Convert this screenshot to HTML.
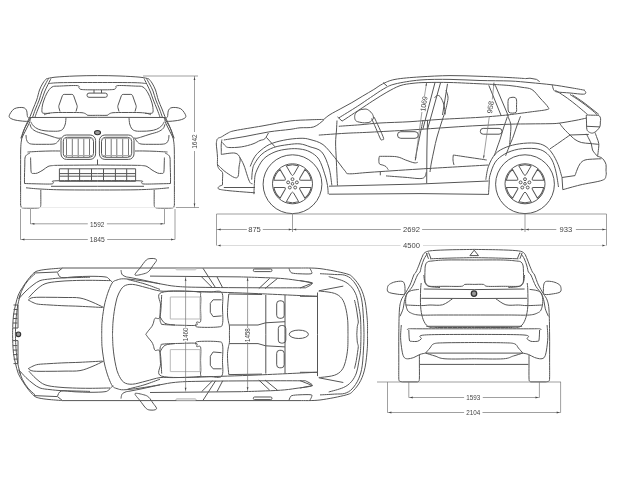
<!DOCTYPE html>
<html><head><meta charset="utf-8"><style>
html,body{margin:0;padding:0;background:#fff;width:640px;height:480px;overflow:hidden}
svg{display:block;will-change:transform}
text{font-family:"Liberation Sans",sans-serif;font-size:7.6px;fill:#444}
.l{fill:none;stroke:#555;stroke-width:1;stroke-linecap:butt;stroke-linejoin:round}
.d{fill:none;stroke:#777;stroke-width:0.7}
text.sm{font-size:6.6px}
text.rd{font-size:7px;letter-spacing:-0.35px}
text.vt{font-size:7.3px}
</style></head><body>
<svg width="640" height="480" viewBox="0 0 640 480">
<!-- ========== FRONT VIEW ========== -->
<defs><g id="fl">
<path d="M46.3,78.8 C45.8,79.5 44.1,81.1 43.0,83.0 C41.9,84.9 40.5,87.2 39.5,90.0 C38.5,92.8 37.8,96.8 36.7,100.0 C35.6,103.2 34.1,106.2 33.0,109.0 C31.9,111.8 31.2,114.0 30.0,116.7 C28.8,119.4 27.1,122.5 26.0,125.0 C24.9,127.5 24.2,129.5 23.3,131.7 C22.4,133.9 21.2,137.2 20.8,138.3"/>
<path d="M48.5,78.5 C48.0,79.4 46.6,81.9 45.5,84.0 C44.4,86.1 43.0,88.3 42.0,91.0 C41.0,93.7 40.3,97.0 39.2,100.0 C38.1,103.0 36.6,106.1 35.5,109.0 C34.4,111.9 33.0,116.1 32.5,117.5"/>
<path d="M51.0,78.5 C50.5,79.5 49.1,82.2 48.0,84.5 C46.9,86.8 45.5,89.4 44.5,92.0 C43.5,94.6 42.8,97.2 41.7,100.0 C40.6,102.8 39.1,106.2 38.0,109.0 C36.9,111.8 35.5,115.7 35.0,117.0"/>
<path d="M97.5,89.8 C95.8,89.8 90.2,89.9 87.5,89.8 C84.8,89.7 82.4,89.7 81.0,89.4 C79.6,89.1 79.6,88.6 79.0,88.0 C78.4,87.4 80.5,85.9 77.2,85.6 C73.9,85.3 63.6,85.9 59.4,86.1 C55.2,86.3 54.1,85.8 52.0,87.0 C49.9,88.2 48.3,90.8 47.0,93.0 C45.7,95.2 44.8,97.8 44.0,100.0 C43.2,102.2 42.6,104.0 42.3,106.0 C42.0,108.0 41.7,110.8 42.0,112.0 C42.3,113.2 42.7,113.1 44.0,113.3 C45.3,113.5 49.0,113.3 50.0,113.3"/>
<path d="M44.0,114.8 C44.7,114.6 46.2,113.8 48.0,113.4 C49.8,113.0 51.3,112.8 55.0,112.6 C58.7,112.4 65.5,112.5 70.0,112.5 C74.5,112.5 79.3,112.5 82.0,112.7 C84.7,113.0 85.0,113.6 86.0,114.0 C87.0,114.4 86.1,115.1 88.0,115.3 C89.9,115.5 95.9,115.3 97.5,115.3"/>
<path d="M60,111.5 L58.9,107.6 Q58.6,106.6 58.9,105.6 L62.4,95.6 Q62.9,94.4 64.2,94.4 L71.8,94.4 Q73.1,94.4 73.6,95.6 L77.1,105.6 Q77.4,106.6 77.1,107.6 L76,111.5"/>
<path d="M9.2,115.8 C9.3,114.9 10.0,113.7 10.8,112.5 C11.6,111.3 12.8,109.6 14.2,108.8 C15.6,108.0 17.5,107.7 19.2,107.5 C20.9,107.3 22.9,107.4 24.2,107.9 C25.4,108.5 26.1,109.3 26.7,110.8 C27.2,112.3 27.1,115.5 27.5,116.7 C27.9,118.0 28.8,117.6 29.2,118.3 C29.6,119.0 30.7,120.3 30.0,120.8 C29.3,121.3 27.5,121.4 25.0,121.3 C22.5,121.2 17.5,120.6 15.0,120.0 C12.5,119.4 11.0,118.6 10.0,117.9 C9.0,117.2 9.1,116.7 9.2,115.8Z"/>
<path d="M30.0,117.5 L97.5,117.3"/>
<path d="M30.8,121.7 C31.2,122.4 32.0,124.5 33.3,125.8 C34.5,127.0 36.3,128.4 38.3,129.2 C40.2,130.0 42.7,130.5 45.0,130.8 C47.3,131.1 49.7,131.2 52.0,131.2 C54.3,131.2 57.2,131.4 59.0,131.0 C60.8,130.6 62.0,130.2 63.0,129.0 C64.0,127.8 64.8,125.9 65.3,124.0 C65.8,122.1 65.9,118.6 66.0,117.5"/>
<path d="M30.0,124.2 C30.3,124.9 30.6,127.1 31.7,128.3 C32.8,129.6 34.5,130.7 36.7,131.7 C38.9,132.7 42.3,133.3 45.0,134.2 C47.7,135.0 50.8,136.1 53.0,136.8 C55.2,137.5 56.7,138.0 58.0,138.2 C59.3,138.4 60.5,138.0 61.0,138.0"/>
<path d="M26.0,135.0 C26.1,135.8 26.1,138.2 26.5,139.5 C26.9,140.8 27.4,142.2 28.5,143.0 C29.6,143.8 30.4,144.0 33.0,144.2 C35.6,144.4 40.5,144.3 44.0,144.3 C47.5,144.3 51.8,144.4 54.0,144.0 C56.2,143.6 56.5,142.9 57.5,142.0 C58.5,141.1 59.6,139.1 60.0,138.5"/>
<path d="M30.0,121.7 L21.7,138.3"/>
<rect x="61" y="135" width="34.6" height="24.4" rx="5.5"/>
<rect x="63.3" y="137.3" width="30.2" height="20" rx="4"/>
<path style="stroke:#777" d="M66.5,137.5 V157.1 M72.3,137.3 V157.3 M78.2,137.3 V157.3 M83.8,137.3 V157.3 M89.5,137.5 V157.1"/>
<path style="stroke:#aaa" d="M63.5,138.6 H93.3 M63.5,155.5 H93.3"/>
<path d="M27.5,152.0 C29.6,151.9 36.2,151.5 40.0,151.3 C43.8,151.1 46.7,151.1 50.0,151.0 C53.3,150.9 58.3,151.0 60.0,151.0"/>
<path d="M30.0,153.0 C29.4,153.3 27.3,154.2 26.5,155.0 C25.7,155.8 25.3,156.3 25.0,158.0 C24.7,159.7 24.9,162.2 24.8,165.0 C24.7,167.8 24.6,171.9 24.5,175.0 C24.4,178.1 24.5,182.1 24.5,183.5"/>
<path d="M30.6,157.5 C30.6,158.8 30.7,162.5 30.8,165.0 C30.9,167.5 30.8,171.1 31.3,172.5 C31.8,173.9 33.0,173.3 34.0,173.4 C35.0,173.5 36.0,173.6 37.5,173.0 C39.0,172.4 41.2,171.1 43.0,170.0 C44.8,168.9 46.4,167.2 48.0,166.5 C49.6,165.8 50.5,165.8 52.5,165.6 C54.5,165.4 52.5,165.4 60.0,165.3 C67.5,165.2 91.2,165.1 97.5,165.0"/>
<path d="M59.4,168.8 L97.5,168.8"/>
<path d="M97.5,181.3 L59.4,181.3 L59.4,168.8"/>
<path d="M59.4,173.6 L97.5,173.6"/>
<path d="M59.4,176.2 L97.5,176.2"/>
<path d="M68.3,168.8 V181.3 M79.6,168.8 V181.3 M91.5,168.8 V181.3"/>
<path d="M24.5,183.5 C26.2,183.6 30.6,183.7 35.0,183.8 C39.4,183.9 47.9,184.2 51.0,184.0 C54.1,183.8 52.7,183.0 53.5,182.5 C54.3,182.0 48.7,181.1 56.0,180.8 C63.3,180.5 90.6,180.6 97.5,180.6"/>
<path d="M51.0,186.3 L97.5,186.3"/>
<path d="M26.0,187.8 C28.3,188.0 34.3,188.7 40.0,189.0 C45.7,189.3 50.4,189.6 60.0,189.8 C69.6,190.0 91.2,190.0 97.5,190.0"/>
<path d="M31.0,118.0 C30.3,119.0 28.2,121.8 27.0,124.0 C25.8,126.2 24.4,128.3 23.5,131.0 C22.6,133.7 22.0,136.8 21.5,140.0 C21.0,143.2 20.8,145.0 20.7,150.0 C20.6,155.0 20.6,163.3 20.6,170.0 C20.6,176.7 20.6,184.2 20.6,190.0 C20.6,195.8 20.6,202.5 20.6,205.0"/>
<path d="M20.6,204.5 C20.7,204.9 20.7,206.4 21.2,207.0 C21.7,207.6 20.8,207.8 23.5,208.0 C26.2,208.2 34.8,208.2 37.5,208.0 C40.2,207.8 39.5,207.6 40.0,207.0 C40.5,206.4 40.7,207.3 40.8,204.5 C40.9,201.7 40.8,192.4 40.8,190.0"/>
</g></defs>
<g class="l">
<use href="#fl"/>
<use href="#fl" transform="translate(195,0) scale(-1,1)"/>
<path d="M46.3,78.8 C47.8,78.5 50.2,77.7 55.0,77.2 C59.8,76.7 67.9,76.3 75.0,76.0 C82.1,75.7 90.0,75.6 97.5,75.6 C105.0,75.6 112.9,75.7 120.0,76.0 C127.1,76.3 135.2,76.7 140.0,77.2 C144.8,77.7 147.2,78.5 148.7,78.8"/>
<path d="M49.0,83.5 C50.8,83.4 51.9,82.9 60.0,82.7 C68.1,82.5 85.0,82.5 97.5,82.5 C110.0,82.5 126.9,82.5 135.0,82.7 C143.1,82.9 144.2,83.4 146.0,83.5"/>
<rect x="87" y="93.1" width="20.3" height="4.2" rx="2"/>
<path d="M94,90 V93.1 M101.5,90 V93.1 M97.5,159.5 V165"/>
<ellipse cx="97.5" cy="132.6" rx="3" ry="2.1" fill="#999" style="stroke:#333;stroke-width:1.1"/>
</g>
<g class="d">
<path d="M143,76 H198 M194.5,76 V132 M194.5,151 V207.5 M176,207.5 H199"/>
<path style="stroke:#e4e4e4" d="M20,207.5 H176"/>
<path d="M30.5,209 V224 M164.5,209 V224 M20.5,209 V239.5 M175,209 V239.5"/>
<path d="M30.5,223.8 H87.8 M106.9,223.8 H164.5 M20.5,239.5 H87.8 M107.2,239.5 H175"/>
</g>
<text x="97.2" y="226.6" text-anchor="middle" textLength="14.3" lengthAdjust="spacingAndGlyphs">1592</text>
<text x="97.35" y="242" text-anchor="middle" textLength="15" lengthAdjust="spacingAndGlyphs">1845</text>
<text class="vt" transform="translate(197.3,141.6) rotate(-90)" text-anchor="middle" textLength="14.5" lengthAdjust="spacingAndGlyphs">1642</text>
<!-- ========== SIDE VIEW ========== -->
<g class="l">
<path d="M323.8,119.4 C324.8,118.6 327.1,116.4 330.0,114.6 C332.9,112.8 337.2,110.6 340.9,108.6 C344.5,106.6 348.2,104.7 351.9,102.6 C355.5,100.5 359.1,98.2 362.8,96.0 C366.5,93.8 370.5,91.5 373.8,89.5 C377.1,87.5 379.0,85.7 382.5,84.0 C386.0,82.3 388.8,80.6 395.0,79.4 C401.2,78.2 410.8,77.5 420.0,76.9 C429.2,76.3 440.0,75.7 450.0,75.6 C460.0,75.5 470.0,76.0 480.0,76.3 C490.0,76.6 502.4,77.2 510.0,77.6 C517.6,78.0 523.0,78.4 525.6,78.6"/>
<path d="M525.6,78.6 L530.0,78.2 L536.6,79.4 L539.7,81.7"/>
<path d="M338.8,117.9 C341.9,116.0 352.0,109.8 357.3,106.4 C362.6,103.0 366.1,100.4 370.5,97.5 C374.9,94.6 379.5,91.2 383.6,88.9 C387.7,86.7 388.9,85.5 395.0,84.0 C401.1,82.5 410.8,80.8 420.0,80.0 C429.2,79.2 440.0,79.3 450.0,79.4 C460.0,79.5 470.0,80.2 480.0,80.5 C490.0,80.8 501.7,80.7 510.0,81.0 C518.3,81.3 523.0,82.0 530.0,82.6 C537.0,83.2 545.3,84.0 552.0,84.8 C558.7,85.6 564.5,86.7 570.0,87.6 C575.5,88.5 582.5,89.8 585.0,90.3"/>
<path d="M342.0,121.2 C345.5,118.9 357.3,111.1 362.8,107.5 C368.3,103.9 371.0,102.0 375.0,99.5 C379.0,97.0 382.7,94.5 386.9,92.2 C391.1,89.9 395.6,87.2 400.0,85.7 C404.4,84.2 408.7,83.8 413.0,83.3 C417.3,82.8 419.8,82.6 426.0,82.5 C432.2,82.4 441.0,82.3 450.0,82.5 C459.0,82.7 472.5,83.5 480.0,83.8 C487.5,84.1 492.5,84.4 495.0,84.5"/>
<path d="M337.5,116.9 L342.0,121.0"/>
<path d="M383.0,82.5 L387.0,86.0"/>
<path d="M552.2,84.8 C552.3,85.3 552.7,87.1 553.0,88.0 C553.3,88.9 553.3,89.6 554.0,90.3 C554.7,91.0 554.3,91.5 557.0,91.9 C559.7,92.4 565.6,92.6 570.0,93.0 C574.4,93.4 580.8,94.3 583.4,94.2 C586.0,94.1 585.6,93.1 585.8,92.5 C586.0,91.9 584.7,90.9 584.5,90.6"/>
<path d="M555.3,90.3 C556.9,91.3 561.7,94.2 565.0,96.5 C568.3,98.8 571.2,101.0 575.0,104.0 C578.8,107.0 585.4,112.7 587.5,114.4"/>
<path d="M572.5,95.0 C574.2,96.2 579.8,99.7 583.0,102.0 C586.2,104.3 589.4,106.9 592.0,109.0 C594.6,111.1 597.7,113.5 598.8,114.4"/>
<path d="M570.0,94.5 C571.7,95.6 576.7,98.7 580.0,101.0 C583.3,103.3 587.1,106.2 590.0,108.5 C592.9,110.8 596.2,113.9 597.5,115.0"/>
<path d="M217.0,139.5 C217.2,139.2 217.8,138.4 218.5,138.0 C219.2,137.6 219.7,137.8 221.3,137.0 C222.9,136.2 225.7,134.1 228.0,133.0 C230.3,131.9 229.3,131.8 235.0,130.6 C240.7,129.4 252.8,127.6 262.0,126.0 C271.2,124.4 282.0,122.0 290.0,121.0 C298.0,120.0 304.4,120.1 310.0,119.8 C315.6,119.5 321.5,119.5 323.8,119.4"/>
<path d="M223.8,140.0 C227.3,139.4 237.5,137.8 245.0,136.5 C252.5,135.2 261.3,133.1 268.8,131.9 C276.3,130.7 284.8,130.1 290.0,129.4 C295.2,128.7 296.0,128.2 300.0,127.8 C304.0,127.4 309.8,128.2 313.8,126.9 C317.8,125.6 322.1,121.2 323.8,120.0"/>
<path d="M222.5,142.5 C223.0,143.1 224.4,145.2 225.5,146.0 C226.6,146.8 226.2,147.3 228.8,147.5 C231.4,147.7 237.3,147.5 241.3,146.9 C245.3,146.3 249.9,145.0 253.0,143.9 C256.1,142.8 258.0,141.3 260.0,140.5 C262.0,139.7 263.4,140.1 264.8,138.8 C266.2,137.5 267.9,133.9 268.5,132.9"/>
<path d="M266.3,137.3 L275.0,146.8"/>
<path d="M217.0,139.5 C216.9,140.2 216.3,142.2 216.3,144.0 C216.3,145.8 216.7,147.8 216.9,150.0 C217.1,152.2 217.4,155.0 217.5,157.5 C217.6,160.0 217.2,163.0 217.5,165.0 C217.8,167.0 218.6,168.2 219.4,169.4 C220.2,170.7 222.0,170.7 222.5,172.5 C223.0,174.3 222.5,177.9 222.5,180.0 C222.5,182.1 222.5,184.2 222.5,185.0"/>
<path d="M222.5,185.0 C222.0,185.2 220.2,185.8 219.4,186.3 C218.7,186.8 217.9,187.5 218.0,188.0 C218.1,188.5 218.0,188.9 220.0,189.4 C222.0,189.9 224.2,190.2 230.0,190.8 C235.8,191.4 250.8,192.5 255.0,192.8"/>
<path d="M221.9,139.5 C221.8,140.4 221.3,143.2 221.2,145.0 C221.1,146.8 221.3,148.4 221.3,150.0 C221.3,151.6 221.3,153.7 221.3,154.4"/>
<path d="M217.5,164.4 C218.2,165.1 220.4,167.5 221.9,168.8 C223.4,170.2 224.2,171.1 226.3,172.5 C228.4,173.9 232.4,176.9 234.4,177.5 C236.4,178.1 237.3,178.1 238.1,176.3 C238.9,174.6 238.7,170.0 239.0,167.0 C239.3,164.0 240.7,160.4 240.0,158.1 C239.3,155.8 238.1,153.7 235.0,153.1 C231.9,152.5 223.6,154.2 221.3,154.4"/>
<path d="M240.0,157.5 C240.6,158.8 242.6,161.9 243.8,165.0 C245.1,168.1 246.5,173.4 247.5,176.3 C248.5,179.2 249.2,181.2 250.0,182.5 C250.8,183.8 252.1,183.6 252.5,183.8"/>
<path d="M223.8,187.5 L255.0,187.5"/>
<path d="M250.2,166.5 C250.8,165.1 252.5,160.4 254.0,158.0 C255.5,155.6 256.5,154.1 259.0,151.9 C261.5,149.7 265.1,146.6 269.2,144.6 C273.3,142.6 278.7,141.2 283.8,140.2 C288.9,139.1 295.6,138.4 300.0,138.3 C304.4,138.2 306.2,138.4 310.0,139.5 C313.8,140.6 318.9,141.6 323.0,144.6 C327.1,147.6 331.1,153.3 334.8,157.7 C338.5,162.1 342.6,168.2 345.0,170.9 C347.4,173.6 345.2,173.6 349.4,173.8 C353.6,174.0 358.2,173.1 370.0,172.3 C381.8,171.5 400.3,170.2 420.0,169.0 C439.7,167.8 476.9,165.7 488.3,165.0"/>
<path d="M251.7,179.6 C251.8,178.0 252.0,172.7 252.5,170.0 C253.0,167.3 253.0,166.2 254.6,163.6 C256.2,160.9 258.7,156.8 261.9,154.1 C265.1,151.4 269.2,149.1 273.6,147.5 C278.0,145.9 283.8,145.2 288.2,144.6 C292.6,144.0 296.4,143.5 300.0,143.9 C303.6,144.3 306.4,145.5 310.0,146.8 C313.6,148.1 318.5,148.4 321.7,151.9 C324.9,155.4 327.3,162.4 329.0,168.0 C330.7,173.6 331.4,182.6 331.9,185.5"/>
<path d="M253.9,194.2 C254.0,192.2 254.2,185.7 254.5,182.0 C254.8,178.3 254.5,176.1 256.0,172.3 C257.5,168.5 260.2,162.6 263.4,159.2 C266.6,155.8 270.9,153.6 275.0,151.9 C279.1,150.2 284.0,149.5 288.2,149.0 C292.4,148.5 296.4,148.5 300.0,149.0 C303.6,149.5 306.9,150.2 310.0,151.9 C313.1,153.6 316.4,155.5 318.8,159.2 C321.2,162.8 323.2,169.4 324.6,173.8 C326.1,178.2 326.9,182.1 327.5,185.5 C328.1,188.9 328.1,192.8 328.2,194.2"/>
<circle cx="292.5" cy="184.2" r="29.4"/>
<circle cx="292.5" cy="183.8" r="20"/>
<path d="M318.8,135.1 C323.2,134.8 336.5,133.8 345.0,133.3 C353.5,132.8 359.2,132.8 370.0,132.2 C380.8,131.6 396.7,130.8 410.0,130.0 C423.3,129.2 438.3,128.1 450.0,127.3 C461.7,126.5 470.0,126.0 480.0,125.5 C490.0,125.0 501.7,124.5 510.0,124.2 C518.3,123.9 523.3,124.0 530.0,123.9 C536.7,123.8 545.1,123.8 550.0,123.7 C554.9,123.6 555.2,123.6 559.4,123.1 C563.6,122.6 570.5,121.3 575.0,120.5 C579.5,119.7 584.4,118.5 586.3,118.1"/>
<path d="M338.8,126.3 C342.3,126.0 353.1,125.3 360.0,124.8 C366.9,124.2 371.7,123.5 380.0,123.0 C388.3,122.5 400.0,122.3 410.0,121.7 C420.0,121.1 428.3,120.1 440.0,119.4 C451.7,118.7 468.8,118.0 480.0,117.3 C491.2,116.6 502.9,115.4 507.5,115.0"/>
<path d="M337.0,120.5 C336.9,122.1 336.7,126.2 336.5,130.0 C336.3,133.8 335.6,138.0 335.6,143.0 C335.6,148.0 336.0,152.9 336.3,160.0 C336.6,167.1 337.3,181.2 337.5,185.5"/>
<path d="M329.0,186.2 L420.0,184.0 L488.5,181.0"/>
<path d="M329.0,194.2 L420.0,193.6 L488.5,194.4"/>
<path d="M427.5,120.0 L426.9,150.0 L426.7,183.3"/>
<path d="M435.0,82.5 L422.8,129.4"/>
<path d="M440.6,82.5 L427.5,129.4"/>
<path d="M447.5,83.8 L442.5,115.0"/>
<path d="M488.8,85.3 L501.0,115.3"/>
<path d="M495.3,85.3 L508.5,116.3"/>
<path d="M507.3,116.9 C506.7,118.8 504.7,124.2 503.5,128.0 C502.3,131.8 501.0,136.5 499.9,139.8 C498.8,143.1 497.9,145.3 497.0,148.0 C496.1,150.7 494.7,154.5 494.2,155.8"/>
<path d="M507.0,114.5 C507.3,115.2 508.4,117.3 509.0,119.0 C509.6,120.7 510.6,122.4 510.8,124.9 C511.1,127.4 510.7,130.8 510.5,134.0 C510.3,137.2 509.8,142.7 509.6,144.4"/>
<path d="M520.5,116.3 C519.8,118.1 517.8,123.3 516.5,127.0 C515.2,130.7 513.8,135.3 512.5,138.6 C511.2,141.9 510.1,144.1 509.0,147.0 C507.9,149.9 506.2,154.3 505.6,155.8"/>
<rect x="397.5" y="131.7" width="20.8" height="6.6" rx="3.3"/>
<rect x="480.3" y="128.4" width="21.7" height="5.8" rx="2.9"/>
<path d="M356.3,121.1 C355.0,120.2 354.8,118.8 354.7,117.5 C354.6,116.2 354.7,114.7 355.5,113.5 C356.3,112.3 358.1,110.9 359.4,110.2 C360.6,109.5 361.7,109.4 363.0,109.3 C364.3,109.2 365.7,108.7 367.2,109.4 C368.7,110.1 370.9,111.9 371.9,113.3 C372.9,114.7 373.7,116.6 373.4,118.0 C373.1,119.4 371.5,121.1 370.3,121.9 C369.1,122.7 367.3,122.7 366.0,122.8 C364.7,122.9 364.1,123.0 362.5,122.7 C360.9,122.4 357.6,122.0 356.3,121.1Z"/>
<path d="M371.6,118.5 C372.3,120.2 374.5,125.1 376.0,128.5 C377.5,131.9 379.5,137.1 380.5,139.0 C381.5,140.9 381.7,139.8 382.2,139.7 C382.7,139.6 384.1,140.3 383.6,138.3 C383.1,136.3 380.6,131.0 379.0,127.5 C377.4,124.0 375.0,118.9 374.2,117.2"/>
<path d="M495.0,84.5 C497.5,84.7 505.5,85.1 510.0,85.6 C514.5,86.1 518.4,86.6 522.0,87.3 C525.6,88.0 528.9,87.7 531.9,89.5 C534.9,91.3 537.3,95.0 540.0,98.0 C542.7,101.0 547.3,105.5 548.3,107.5 C549.3,109.5 549.0,109.0 546.0,109.8 C543.0,110.5 536.4,111.1 530.0,112.0 C523.6,112.9 511.2,114.5 507.5,115.0"/>
<path d="M509.0,112.3 C507.7,111.1 508.1,107.2 508.0,105.0 C507.9,102.8 508.0,100.2 508.5,99.0 C509.0,97.8 509.9,97.8 511.0,97.5 C512.1,97.2 514.1,97.1 515.0,97.5 C515.9,97.9 516.2,98.6 516.5,100.0 C516.8,101.4 516.6,104.0 516.5,106.0 C516.4,108.0 517.2,111.2 516.0,112.3 C514.8,113.3 510.3,113.5 509.0,112.3Z"/>
<path d="M379.4,156.3 C382.2,156.4 391.9,156.1 396.3,156.7 C400.7,157.3 402.7,159.0 405.6,160.0 C408.6,161.0 412.0,162.4 414.0,162.8 C416.0,163.2 417.2,162.4 417.8,162.3"/>
<path d="M379.4,156.3 C379.3,156.8 378.9,157.8 378.9,159.0 C378.9,160.2 378.7,162.8 379.4,163.8 C380.1,164.8 382.0,164.7 383.1,165.2 C384.2,165.7 385.1,165.8 386.0,166.6 C386.9,167.4 387.9,169.3 388.3,169.8"/>
<path d="M386.0,175.9 C389.2,176.1 398.9,176.9 405.0,177.3 C411.1,177.7 418.9,179.2 422.5,178.3 C426.1,177.5 425.7,173.2 426.3,172.2"/>
<path d="M380.3,172.0 L380.3,175.3"/>
<path d="M453.3,155.0 C456.1,155.4 464.4,156.7 470.0,157.5 C475.6,158.3 483.9,159.6 486.7,160.0"/>
<path d="M453.3,155.0 C453.2,155.8 452.9,158.3 453.0,160.0 C453.1,161.7 453.8,164.2 454.0,165.0"/>
<path d="M446.0,90.0 C446.3,91.2 447.8,94.7 448.0,97.0 C448.2,99.3 447.5,101.5 447.0,104.0 C446.5,106.5 446.0,108.7 445.0,112.0 C444.0,115.3 442.3,119.8 441.0,124.0 C439.7,128.2 438.2,132.7 437.0,137.0 C435.8,141.3 434.9,145.8 434.0,150.0 C433.1,154.2 432.2,158.3 431.5,162.0 C430.8,165.7 430.2,170.3 430.0,172.0"/>
<path d="M434.5,98.0 C434.9,97.6 436.1,95.8 437.0,95.5 C437.9,95.2 439.0,95.4 440.0,96.5 C441.0,97.6 442.2,100.1 443.0,102.0 C443.8,103.9 444.1,105.9 444.5,108.0 C444.9,110.1 445.2,113.3 445.4,114.4"/>
<path d="M423.0,120.0 C422.5,122.5 421.0,130.0 420.0,135.0 C419.0,140.0 417.8,145.8 417.0,150.0 C416.2,154.2 415.6,158.6 415.3,160.3"/>
<path d="M586.3,115.0 C587.2,115.0 589.9,115.1 592.0,115.2 C594.1,115.3 597.4,115.0 598.8,115.6 C600.2,116.2 600.4,117.7 600.6,118.8 C600.9,119.9 600.4,120.8 600.3,122.0 C600.2,123.2 600.6,124.9 600.0,126.3 C599.4,127.7 598.1,129.5 596.9,130.6 C595.6,131.7 593.9,132.9 592.5,133.1 C591.1,133.3 589.7,132.5 588.8,131.9 C587.9,131.3 587.3,131.1 586.9,129.4 C586.5,127.8 586.6,124.4 586.5,122.0 C586.4,119.6 586.3,116.2 586.3,115.0"/>
<path d="M586.9,126.3 L600.0,126.9"/>
<path d="M559.4,123.1 C560.2,124.1 562.2,127.0 564.0,129.0 C565.8,131.0 569.0,134.0 570.0,135.0"/>
<path d="M570.0,135.0 L588.8,134.4"/>
<path d="M570.0,135.0 C570.8,135.8 573.1,138.2 575.0,139.5 C576.9,140.8 578.8,141.8 581.3,142.5 C583.8,143.2 587.1,143.2 590.0,143.5 C592.9,143.8 597.3,144.2 598.8,144.4"/>
<path d="M570.0,135.0 C568.3,136.2 563.3,139.7 560.0,142.0 C556.7,144.3 551.7,147.7 550.0,148.8"/>
<path d="M586.3,133.8 C586.8,134.7 588.2,137.3 589.0,139.0 C589.8,140.7 590.7,142.0 591.3,143.8 C591.9,145.6 591.9,148.4 592.5,150.0 C593.1,151.6 594.2,152.4 595.0,153.5 C595.8,154.6 597.1,155.8 597.5,156.3"/>
<path d="M595.0,132.5 C595.3,133.4 596.4,136.1 597.0,138.0 C597.6,139.9 598.6,141.4 598.8,143.8 C599.0,146.2 598.3,150.4 598.1,152.5 C597.9,154.6 597.6,155.7 597.5,156.3"/>
<path d="M597.5,156.3 C598.1,156.5 600.0,156.9 601.0,157.5 C602.0,158.1 603.0,158.8 603.8,160.0 C604.6,161.2 605.6,162.7 606.0,164.4 C606.4,166.1 606.0,168.1 606.0,170.0 C606.0,171.9 606.6,173.9 606.0,175.6 C605.4,177.3 606.5,178.7 602.2,180.3 C597.9,181.9 586.6,183.4 580.0,185.0 C573.4,186.6 565.7,188.9 562.8,189.7"/>
<path d="M575.0,175.6 C575.3,174.7 576.2,172.0 577.0,170.0 C577.8,168.0 578.7,165.5 580.0,163.8 C581.3,162.1 582.5,160.8 585.0,160.0 C587.5,159.2 592.3,159.2 595.0,159.0 C597.7,158.8 600.2,158.8 601.3,158.8"/>
<path d="M562.0,177.5 L575.0,175.6"/>
<path d="M562.0,177.5 L562.8,189.7"/>
<path d="M485.8,179.7 C486.2,177.4 486.9,170.5 488.5,166.2 C490.1,161.9 492.4,157.2 495.3,154.0 C498.2,150.8 502.1,148.9 506.2,147.2 C510.3,145.5 514.9,144.5 519.7,143.8 C524.5,143.1 530.8,142.7 535.0,143.1 C539.2,143.5 542.2,144.3 545.0,146.0 C547.8,147.7 549.8,149.9 552.0,153.0 C554.2,156.1 556.3,160.3 558.0,164.4 C559.7,168.5 561.3,175.3 562.0,177.5"/>
<path d="M488.5,194.6 C488.6,192.7 489.0,186.2 489.2,183.0 C489.4,179.8 488.9,179.1 489.9,175.6 C490.9,172.1 492.8,165.7 495.3,162.1 C497.8,158.5 501.0,156.2 504.8,154.0 C508.6,151.8 513.4,150.1 518.4,149.2 C523.4,148.3 530.6,148.1 535.0,148.6 C539.4,149.1 542.2,150.1 545.0,152.0 C547.8,153.9 550.2,156.7 552.0,160.0 C553.8,163.3 554.9,167.5 556.0,172.0 C557.1,176.5 558.1,184.5 558.5,187.0"/>
<circle cx="525" cy="184.2" r="29.4"/>
<circle cx="525" cy="183.8" r="20"/>
</g>
<g class="d">
<path d="M426.6,82.5 L424.5,96 M421.9,112 L415.3,160.3"/>
<path d="M494,82.5 L492.3,99.5 M489.4,116 L483.5,158.5"/>
</g>
<g fill="#555">
<path d="M426.6,82.5 l-1.2,3 l1.6,0.2 Z"/>
<path d="M415.3,160.3 l-0.5,-3.1 l1.6,0.2 Z"/>
<path d="M494,82.5 l-1.1,3 l1.6,0.2 Z"/>
<path d="M483.5,158.5 l-0.4,-3.1 l1.6,0.2 Z"/>
</g>
<text class="vt" transform="translate(426.3,104.2) rotate(-81.3)" text-anchor="middle" textLength="15.3" lengthAdjust="spacingAndGlyphs">1069</text>
<text class="vt" transform="translate(492.9,107.5) rotate(-81.8)" text-anchor="middle" textLength="12.5" lengthAdjust="spacingAndGlyphs">958</text>
<g class="l">
<g transform="translate(292.5,183.8)">
<path transform="rotate(0)" d="M1.2,-9.3 L6.21,-17.96 A19.0,19.0 0 0 0 -6.21,-17.96 L-1.2,-9.3 Q0,-7.4 1.2,-9.3 Z"/>
<path transform="rotate(60)" d="M1.2,-9.3 L6.21,-17.96 A19.0,19.0 0 0 0 -6.21,-17.96 L-1.2,-9.3 Q0,-7.4 1.2,-9.3 Z"/>
<path transform="rotate(120)" d="M1.2,-9.3 L6.21,-17.96 A19.0,19.0 0 0 0 -6.21,-17.96 L-1.2,-9.3 Q0,-7.4 1.2,-9.3 Z"/>
<path transform="rotate(180)" d="M1.2,-9.3 L6.21,-17.96 A19.0,19.0 0 0 0 -6.21,-17.96 L-1.2,-9.3 Q0,-7.4 1.2,-9.3 Z"/>
<path transform="rotate(240)" d="M1.2,-9.3 L6.21,-17.96 A19.0,19.0 0 0 0 -6.21,-17.96 L-1.2,-9.3 Q0,-7.4 1.2,-9.3 Z"/>
<path transform="rotate(300)" d="M1.2,-9.3 L6.21,-17.96 A19.0,19.0 0 0 0 -6.21,-17.96 L-1.2,-9.3 Q0,-7.4 1.2,-9.3 Z"/>
<circle cx="0.00" cy="-4.60" r="1.45"/>
<circle cx="4.37" cy="-1.42" r="1.45"/>
<circle cx="2.70" cy="3.72" r="1.45"/>
<circle cx="-2.70" cy="3.72" r="1.45"/>
<circle cx="-4.37" cy="-1.42" r="1.45"/>
<circle r="1.3"/>
</g>
<g transform="translate(525,183.8)">
<path transform="rotate(0)" d="M1.2,-9.3 L6.21,-17.96 A19.0,19.0 0 0 0 -6.21,-17.96 L-1.2,-9.3 Q0,-7.4 1.2,-9.3 Z"/>
<path transform="rotate(60)" d="M1.2,-9.3 L6.21,-17.96 A19.0,19.0 0 0 0 -6.21,-17.96 L-1.2,-9.3 Q0,-7.4 1.2,-9.3 Z"/>
<path transform="rotate(120)" d="M1.2,-9.3 L6.21,-17.96 A19.0,19.0 0 0 0 -6.21,-17.96 L-1.2,-9.3 Q0,-7.4 1.2,-9.3 Z"/>
<path transform="rotate(180)" d="M1.2,-9.3 L6.21,-17.96 A19.0,19.0 0 0 0 -6.21,-17.96 L-1.2,-9.3 Q0,-7.4 1.2,-9.3 Z"/>
<path transform="rotate(240)" d="M1.2,-9.3 L6.21,-17.96 A19.0,19.0 0 0 0 -6.21,-17.96 L-1.2,-9.3 Q0,-7.4 1.2,-9.3 Z"/>
<path transform="rotate(300)" d="M1.2,-9.3 L6.21,-17.96 A19.0,19.0 0 0 0 -6.21,-17.96 L-1.2,-9.3 Q0,-7.4 1.2,-9.3 Z"/>
<circle cx="0.00" cy="-4.60" r="1.45"/>
<circle cx="4.37" cy="-1.42" r="1.45"/>
<circle cx="2.70" cy="3.72" r="1.45"/>
<circle cx="-2.70" cy="3.72" r="1.45"/>
<circle cx="-4.37" cy="-1.42" r="1.45"/>
<circle r="1.3"/>
</g>
</g>
<!-- ========== TOP VIEW ========== -->
<defs><g id="th">
<path d="M12.6,334.3 C12.6,332.8 12.7,328.2 12.8,325.0 C13.0,321.8 13.1,318.3 13.5,315.0 C13.9,311.7 14.7,308.3 15.5,305.0 C16.3,301.7 17.1,297.9 18.3,295.0 C19.5,292.1 20.9,290.1 22.5,287.5 C24.1,284.9 26.1,281.9 28.0,279.5 C29.9,277.1 32.0,274.5 33.8,273.0 C35.6,271.5 36.1,271.3 38.8,270.6 C41.5,269.9 46.0,269.4 50.0,269.0 C54.0,268.6 60.4,268.2 62.5,268.0"/>
<path d="M62.5,268.0 L300.0,268.0"/>
<path d="M300.0,268.0 C303.3,268.1 312.3,267.7 320.0,268.6 C327.7,269.6 340.6,272.1 346.2,273.7 C351.8,275.3 351.1,275.7 353.5,278.1 C355.9,280.5 358.9,284.4 360.8,288.3 C362.7,292.2 364.0,296.1 365.1,301.4 C366.2,306.7 366.9,314.8 367.3,320.3 C367.7,325.8 367.5,332.0 367.5,334.3"/>
<path d="M20.5,294.0 C20.1,295.8 18.6,300.7 17.8,305.0 C17.1,309.3 16.4,315.1 16.0,320.0 C15.6,324.9 15.5,331.9 15.4,334.3"/>
<path d="M33.8,273.0 L57.5,272.0 L62.5,268.0"/>
<path d="M57.5,272.5 C58.1,273.3 58.4,276.8 61.3,277.5 C64.2,278.2 70.2,277.0 75.0,276.8 C79.8,276.6 85.0,276.3 90.0,276.3 C95.0,276.3 101.8,276.4 105.0,276.9 C108.2,277.3 107.7,278.0 109.0,279.0 C110.3,280.0 112.3,282.3 113.0,283.0"/>
<path d="M35.0,273.8 C33.8,274.9 30.1,278.0 28.0,280.5 C25.9,283.0 24.0,285.9 22.5,289.0 C21.0,292.1 19.4,297.2 18.8,298.8"/>
<path d="M18.8,298.8 C20.0,297.5 23.6,293.3 26.0,291.0 C28.4,288.7 30.7,286.7 33.0,285.0 C35.3,283.3 37.2,281.6 40.0,280.6 C42.8,279.6 46.5,279.4 50.0,279.0 C53.5,278.6 56.8,278.2 61.0,278.0 C65.2,277.8 70.2,277.7 75.0,277.6 C79.8,277.5 87.5,277.3 90.0,277.2"/>
<path d="M28.8,297.5 C30.0,296.2 33.3,292.3 36.0,290.0 C38.7,287.7 41.3,285.2 45.0,283.8 C48.7,282.4 53.4,282.0 58.0,281.5 C62.6,281.0 67.2,280.8 72.5,280.6 C77.8,280.4 83.8,280.3 90.0,280.3 C96.2,280.3 106.7,280.6 110.0,280.6"/>
<path d="M28.3,300.0 C29.1,299.6 29.7,297.9 33.3,297.5 C36.9,297.1 44.7,297.3 50.0,297.3 C55.3,297.3 60.0,297.4 65.0,297.5 C70.0,297.6 75.5,297.2 80.0,298.0 C84.5,298.8 88.0,300.4 92.0,302.0 C96.0,303.6 101.8,306.6 103.8,307.5"/>
<path d="M28.3,300.0 C29.1,300.4 31.3,301.8 33.0,302.5 C34.7,303.2 35.5,303.8 38.3,304.2 C41.1,304.6 45.5,304.7 50.0,305.0 C54.5,305.3 60.0,305.6 65.0,305.8 C70.0,306.0 73.8,306.0 80.0,306.3 C86.2,306.6 98.8,307.3 102.5,307.5"/>
<path d="M101.7,334.3 C101.8,332.2 101.7,325.8 102.0,322.0 C102.3,318.2 102.8,314.9 103.3,311.7 C103.8,308.4 104.1,305.9 105.0,302.5 C105.9,299.1 107.2,294.3 108.5,291.0 C109.8,287.7 111.1,284.3 112.5,282.5 C113.9,280.7 115.1,280.6 117.0,280.0 C118.9,279.4 120.0,278.7 123.8,278.8 C127.6,278.9 134.0,279.7 140.0,280.5 C146.0,281.3 154.1,282.8 160.0,283.8 C165.9,284.8 168.9,285.7 175.6,286.3 C182.3,286.9 185.9,287.1 200.0,287.3 C214.1,287.6 242.4,287.7 260.0,287.8 C277.6,287.9 298.0,287.8 305.6,287.8"/>
<path d="M112.5,334.3 C112.6,332.2 112.7,325.8 113.0,322.0 C113.3,318.2 113.7,315.0 114.2,311.7 C114.7,308.4 115.3,304.9 116.0,302.0 C116.7,299.1 117.2,296.6 118.5,294.0 C119.8,291.4 121.5,287.9 123.8,286.3 C126.1,284.7 128.8,284.2 132.5,284.4 C136.2,284.6 141.4,286.4 146.0,287.5 C150.6,288.6 155.4,290.4 160.0,291.0 C164.6,291.6 167.4,290.9 173.4,291.0 C179.4,291.1 183.2,291.1 196.0,291.5 C208.8,291.9 229.7,292.5 250.0,293.3 C270.3,294.1 306.7,295.9 318.0,296.4"/>
<path d="M121.0,270.0 C121.1,270.5 121.2,272.2 121.5,273.0 C121.8,273.8 121.8,274.4 122.5,275.0 C123.2,275.6 124.8,276.4 126.0,276.8 C127.2,277.2 126.8,276.9 130.0,277.5 C133.2,278.1 140.0,279.4 145.0,280.5 C150.0,281.6 157.5,283.2 160.0,283.8"/>
<path d="M127.5,279.4 C130.4,280.2 139.6,282.3 145.0,284.0 C150.4,285.7 157.5,288.5 160.0,289.4"/>
<path d="M135.0,275.0 C134.4,274.0 138.1,270.5 140.0,268.0 C141.9,265.5 144.5,261.6 146.3,260.0 C148.1,258.4 149.6,258.7 151.0,258.5 C152.4,258.3 154.1,258.5 155.0,258.8 C155.9,259.1 156.8,259.4 156.5,260.5 C156.2,261.6 154.3,263.7 153.0,265.5 C151.7,267.3 150.3,269.9 148.8,271.3 C147.3,272.7 146.1,273.2 143.8,273.8 C141.5,274.4 135.6,276.0 135.0,275.0Z"/>
<path d="M150.0,276.1 L240.0,276.9"/>
<path d="M240.0,276.9 C243.3,277.0 253.2,277.2 260.0,277.5 C266.8,277.8 274.6,277.9 280.6,278.4 C286.6,278.8 290.8,279.4 296.0,280.2 C301.2,281.0 310.4,281.7 312.0,283.0 C313.6,284.3 306.7,287.0 305.6,287.8"/>
<path d="M203.0,268.3 L215.6,287.8"/>
<path d="M201.6,276.9 L212.5,287.8"/>
<path d="M217.0,276.9 L222.7,287.8"/>
<path d="M269.7,278.4 L258.8,288.6"/>
<path d="M277.5,278.4 L265.0,288.6"/>
<rect x="253.3" y="269" width="18.7" height="2.6" rx="1.3"/>
<rect x="176" y="268.4" width="20" height="1.4" rx="0.7" style="stroke:#bbb"/>
<path d="M289.0,268.3 C289.2,268.8 289.5,270.2 290.0,271.0 C290.5,271.8 290.3,272.5 292.0,273.0 C293.7,273.5 296.8,273.7 300.0,273.8 C303.2,273.9 309.1,274.2 311.0,273.8 C312.9,273.4 311.7,272.4 311.5,271.5 C311.3,270.6 310.2,269.0 310.0,268.5"/>
<path d="M320.0,273.7 C322.4,273.8 330.5,274.2 334.6,274.5 C338.7,274.8 341.8,274.3 344.7,275.2 C347.6,276.1 349.7,277.2 352.0,279.6 C354.3,282.0 356.9,285.8 358.6,289.7 C360.3,293.6 361.4,297.2 362.2,302.8 C363.0,308.4 363.4,317.9 363.7,323.2 C364.0,328.4 363.9,332.4 364.0,334.3"/>
<path d="M328.7,276.6 C331.1,277.3 339.5,279.3 343.3,281.0 C347.1,282.7 349.1,284.4 351.3,286.8 C353.5,289.2 355.2,292.4 356.4,295.6 C357.6,298.8 357.9,302.1 358.6,305.8 C359.3,309.5 360.1,313.2 360.5,318.0 C360.9,322.8 360.9,331.6 361.0,334.3"/>
<path d="M354.5,300.0 C354.8,301.3 355.8,305.3 356.3,308.0 C356.8,310.7 357.2,313.7 357.5,316.0 C357.8,318.3 358.3,320.2 358.3,322.0 C358.3,323.8 357.6,324.4 357.3,326.5 C357.1,328.6 356.9,333.0 356.8,334.3"/>
<path d="M318.8,291.3 C319.3,291.3 319.4,291.0 322.0,291.3 C324.6,291.6 331.3,292.2 334.6,293.4 C337.9,294.6 340.0,296.2 341.8,298.5 C343.6,300.8 344.5,303.6 345.5,307.2 C346.5,310.8 347.3,315.8 347.7,320.3 C348.1,324.8 347.9,332.0 348.0,334.3"/>
<path d="M318.8,290.8 L343.3,286.1"/>
<path d="M300.0,296.3 L317.5,296.3"/>
<path d="M317.5,292.5 L317.5,334.3"/>
<path d="M300.0,280.6 L312.5,283.0 L300.0,288.0"/>
<path d="M161.5,292.5 C155.5,294.7 160.8,300.6 160.5,305.0 C160.2,309.4 159.9,316.0 160.0,319.0 C160.1,322.0 160.5,322.1 161.0,323.0 C161.5,323.9 159.8,324.1 163.0,324.5 C166.2,324.9 174.5,325.1 180.0,325.2 C185.5,325.3 193.2,325.8 196.0,325.3 C198.8,324.8 195.9,322.6 196.7,322.0 C197.5,321.4 199.9,323.7 200.6,321.4 C201.2,319.1 200.6,312.3 200.6,308.0 C200.6,303.7 201.2,298.3 200.6,295.6 C199.9,292.9 203.2,292.2 196.7,291.7 C190.2,291.2 167.5,290.3 161.5,292.5Z"/>
<path style="stroke:#bbb" d="M170.3,297 H200 V319 H170.3 Z"/>
<path d="M196.7,291.7 C198.9,291.8 205.8,291.9 210.0,292.0 C214.2,292.1 219.6,289.8 221.7,292.5 C223.8,295.2 222.4,302.8 222.5,308.0 C222.6,313.2 223.3,320.6 222.5,323.8 C221.7,327.0 222.0,326.5 217.8,327.0 C213.6,327.5 201.1,327.5 197.5,327.0 C193.9,326.5 196.2,324.3 196.0,323.8"/>
<path d="M221.6,299.8 L213.1,299.8 L210.3,303.3 L210.3,312.4 L213.1,316.6 L221.6,315.9"/>
<path d="M228.8,294.0 L262.0,294.5"/>
<path d="M228.8,294.0 C228.6,295.8 228.0,301.5 227.8,305.0 C227.6,308.5 227.4,312.2 227.5,315.0 C227.6,317.8 228.2,320.2 228.5,322.0 C228.8,323.8 229.2,323.9 229.4,326.0 C229.6,328.1 229.4,332.9 229.4,334.3"/>
<path d="M229.4,325.0 L258.0,325.0 L265.6,322.8 L285.0,321.7"/>
<path d="M265.8,295.0 L265.8,334.3"/>
<path d="M285.0,295.0 L285.0,334.3"/>
<rect x="276.7" y="300.8" width="7.5" height="17.5" rx="3"/>
<path d="M161.7,295.0 C161.4,298.6 161.1,312.8 160.0,316.7 C158.9,320.6 156.1,317.2 155.0,318.3 C153.9,319.4 153.9,321.9 153.3,323.3 C152.8,324.7 152.5,325.4 151.7,326.7 C150.9,327.9 149.3,329.5 148.3,330.8 C147.3,332.1 146.2,333.7 145.8,334.3"/>
<path d="M160.0,316.7 C160.8,317.8 162.5,321.9 165.0,323.3 C167.5,324.7 173.3,324.7 175.0,325.0"/>
<path d="M13.5,305.0 L18.0,305.0 L18.0,328.0 L13.0,328.0"/>
<path d="M13.6,309.5 H17.6 M13.2,314 H17.5 M13,318.5 H17.4 M12.9,323 H17.4"/>
</g></defs>
<g class="l"><use href="#th"/><use href="#th" transform="translate(0,668.6) scale(1,-1)"/></g>
<g class="l">
<circle cx="18.4" cy="334.3" r="2.3" fill="#999" style="stroke:#333;stroke-width:1.1"/>
<rect x="278.3" y="325.5" width="7.5" height="17.6" rx="3"/>
<ellipse cx="298.8" cy="334.3" rx="9.6" ry="4.2"/>
</g>
<g class="d">
<path d="M185.6,277 V327.3 M185.6,341.5 V391.5 M247.6,277 V328 M247.6,342 V391"/>
</g>
<text class="vt" transform="translate(188.3,334.4) rotate(-90)" text-anchor="middle" textLength="13.8" lengthAdjust="spacingAndGlyphs">1460</text>
<text class="vt" transform="translate(250.1,335.1) rotate(-90)" text-anchor="middle" textLength="13.8" lengthAdjust="spacingAndGlyphs">1458</text>
<!-- ========== REAR VIEW ========== -->
<defs><g id="rh">
<path d="M474.2,249.4 C470.2,249.5 456.9,249.6 450.0,249.8 C443.1,250.0 436.7,250.2 432.5,250.6 C428.3,251.0 426.8,251.3 425.0,252.5 C423.2,253.7 422.9,255.4 421.9,257.5 C420.9,259.6 420.0,262.6 419.0,265.0 C418.0,267.4 416.9,270.3 416.0,272.0 C415.1,273.7 414.8,272.8 413.8,275.0 C412.8,277.2 411.5,281.9 410.0,285.0 C408.5,288.1 406.4,291.3 405.0,293.8 C403.6,296.3 402.2,297.3 401.3,300.0 C400.4,302.7 399.8,304.2 399.4,310.0 C399.0,315.8 398.9,326.7 398.8,335.0 C398.7,343.3 398.8,352.8 398.8,360.0 C398.8,367.2 398.7,374.5 398.8,378.0 C398.9,381.5 398.9,380.4 399.5,381.0 C400.1,381.6 402.0,381.8 402.5,381.9"/>
<path d="M402.5,381.9 L417.5,381.9"/>
<path d="M417.5,381.9 C417.8,381.8 418.7,381.6 419.0,381.0 C419.3,380.4 419.3,380.7 419.4,378.0 C419.5,375.3 419.4,368.8 419.4,365.0 C419.4,361.2 419.4,356.7 419.4,355.0"/>
<path d="M430.0,258.8 C433.3,258.7 442.6,258.3 450.0,258.1 C457.4,257.9 470.2,257.7 474.2,257.6"/>
<path d="M426.3,253.0 L428.5,258.8"/>
<path d="M428.5,252.5 L431.0,258.5"/>
<path d="M427.5,253.5 C426.9,254.4 425.0,256.9 424.0,259.0 C423.0,261.1 422.2,263.8 421.5,266.0 C420.8,268.2 420.7,270.5 420.0,272.0 C419.3,273.5 418.8,272.6 417.5,275.0 C416.2,277.4 414.3,283.2 412.5,286.3 C410.7,289.4 408.2,291.3 406.9,293.8 C405.5,296.3 405.0,298.8 404.4,301.3 C403.8,303.8 403.8,306.3 403.1,308.8 C402.4,311.3 400.5,315.1 400.0,316.3"/>
<path d="M474.2,260.0 C469.3,260.0 452.0,259.8 445.0,260.0 C438.0,260.2 434.9,260.7 432.0,261.0 C429.1,261.3 428.6,261.2 427.5,261.9 C426.4,262.6 425.9,263.6 425.5,265.0 C425.1,266.4 425.1,267.3 425.0,270.0 C424.9,272.7 424.7,278.9 425.0,281.3 C425.3,283.7 426.2,283.7 427.0,284.5 C427.8,285.3 427.0,286.0 430.0,286.3 C433.0,286.6 439.8,286.3 445.0,286.3 C450.2,286.3 458.0,286.6 461.3,286.3 C464.6,286.0 462.9,284.7 465.0,284.4 C467.1,284.1 472.7,284.4 474.2,284.4"/>
<path d="M423.8,289.0 L474.2,289.6"/>
<path d="M421.3,298.3 L474.2,298.5"/>
<path d="M421.2,283.0 C421.1,284.2 420.7,286.1 420.6,290.0 C420.5,293.9 420.3,301.7 420.6,306.3 C420.9,310.9 421.6,314.4 422.5,317.5 C423.4,320.6 424.8,323.3 426.3,325.0 C427.8,326.7 429.0,327.1 431.3,327.5 C433.6,327.9 432.9,327.5 440.0,327.5 C447.1,327.5 468.5,327.5 474.2,327.5"/>
<path d="M423.8,275.0 C424.0,276.2 424.2,280.6 425.0,282.5 C425.8,284.4 426.3,285.5 428.8,286.3 C431.3,287.1 438.1,287.3 440.0,287.5"/>
<path d="M418.8,289.4 C417.6,289.6 413.3,289.9 411.3,290.6 C409.3,291.3 407.8,292.0 406.9,293.8 C405.9,295.6 405.6,298.8 405.6,301.3 C405.6,303.8 406.2,306.9 406.9,308.8 C407.6,310.7 408.0,311.5 410.0,312.5 C412.0,313.5 413.8,314.6 418.8,315.0 C423.8,315.4 430.8,315.0 440.0,315.0 C449.2,315.0 468.5,315.0 474.2,315.0"/>
<path d="M405.6,305.0 C408.2,305.1 417.2,305.6 421.3,305.6 C425.4,305.6 426.5,305.1 430.0,305.0 C433.5,304.9 438.8,305.8 442.5,304.8 C446.2,303.8 450.8,299.8 452.5,298.8"/>
<path d="M426.3,326.3 L474.2,326.3"/>
<path d="M407.5,330.0 C407.7,329.8 406.7,329.0 408.8,328.8 C410.9,328.6 409.1,328.8 420.0,328.8 C430.9,328.8 465.2,328.8 474.2,328.8"/>
<path d="M408.8,330.0 C408.9,331.7 409.0,338.1 409.4,340.0 C409.8,341.9 409.9,341.1 411.3,341.3 C412.7,341.5 415.8,341.7 417.5,341.3 C419.2,340.9 420.2,339.9 421.3,338.8 C422.4,337.8 415.6,335.7 424.4,335.0 C433.2,334.3 465.9,334.5 474.2,334.4"/>
<path d="M401.3,325.0 C401.2,327.1 400.5,333.3 400.6,337.5 C400.7,341.7 401.4,346.8 401.9,350.0 C402.4,353.2 402.9,355.4 403.8,356.9 C404.7,358.4 405.8,358.7 407.5,358.8 C409.2,358.9 411.7,358.2 413.8,357.5 C415.9,356.8 418.0,355.1 420.0,354.4 C422.0,353.7 424.7,353.3 425.6,353.1"/>
<path d="M425.6,353.1 C426.3,352.2 428.6,349.6 430.0,348.0 C431.4,346.4 431.3,344.7 433.8,343.8 C436.3,342.9 438.3,343.0 445.0,342.8 C451.7,342.6 469.3,342.6 474.2,342.5"/>
<path d="M425.6,353.1 L474.2,353.1"/>
<path d="M425.6,353.1 C427.2,353.6 431.8,355.1 435.0,356.0 C438.2,356.9 438.5,358.3 445.0,358.8 C451.5,359.3 469.3,358.8 474.2,358.8"/>
<path d="M420.0,364.4 L474.2,364.4"/>
<path d="M387.5,287.5 C387.7,286.2 388.1,285.3 389.4,284.4 C390.6,283.5 392.9,282.4 395.0,281.9 C397.1,281.4 400.3,281.0 401.9,281.3 C403.5,281.6 403.9,282.4 404.4,283.8 C404.9,285.2 405.1,288.2 405.0,290.0 C404.9,291.8 405.5,293.8 403.8,294.4 C402.1,295.0 397.6,294.2 395.0,293.8 C392.4,293.4 389.4,292.9 388.1,291.9 C386.9,290.8 387.3,288.8 387.5,287.5Z"/>
</g></defs>
<g class="l"><use href="#rh"/><use href="#rh" transform="translate(948.4,0) scale(-1,1)"/></g>
<g class="l">
<path d="M469.9,255.6 L474.2,250.2 L478.5,255.6 Z"/>
<circle cx="474.0" cy="293.6" r="2.7" fill="#999" style="stroke:#333;stroke-width:1.3"/>
</g>
<!-- side dims -->
<g class="d">
<path d="M216.5,214 H606.5 M216.5,214 V245.5 M606.5,214 V245.5 M292.5,214 V232 M525,214 V232"/>
<path d="M216.5,229.5 H246.9 M262.8,229.5 H400.8 M422.1,229.5 H556.3 M575.9,229.5 H606.5"/>
</g>
<g class="d" style="stroke:#ccc">
<path d="M216.5,245.5 H400.5 M423,245.5 H606.5"/>
</g>
<text x="254.5" y="232.2" text-anchor="middle">875</text>
<text x="411.5" y="232.2" text-anchor="middle">2692</text>
<text x="565.9" y="232.2" text-anchor="middle">933</text>
<text x="411.5" y="248.2" text-anchor="middle">4500</text>
<!-- rear dims -->
<g class="d">
<path d="M377,382 H561 M408.8,382 V397.5 M539.4,382 V397.5 M387.5,382 V412.5 M560.6,382 V412.5"/>
<path d="M408.8,397.5 H464.1 M482.8,397.5 H539.4 M387.5,412.5 H464.1 M482.5,412.5 H560.6"/>
</g>
<text x="473.3" y="399.8" text-anchor="middle" textLength="14" lengthAdjust="spacingAndGlyphs">1593</text>
<text x="473.3" y="415" text-anchor="middle" textLength="14" lengthAdjust="spacingAndGlyphs">2104</text>
<path fill="#444" d="M217.8,229.5 l2.8,-0.9 l0,1.8 Z M291.6,229.5 l-2.8,-0.9 l0,1.8 Z M293.4,229.5 l2.8,-0.9 l0,1.8 Z M524.1,229.5 l-2.8,-0.9 l0,1.8 Z M525.9,229.5 l2.8,-0.9 l0,1.8 Z M605.2,229.5 l-2.8,-0.9 l0,1.8 Z M217.8,245.5 l2.8,-0.9 l0,1.8 Z M605.2,245.5 l-2.8,-0.9 l0,1.8 Z M31.6,223.8 l2.8,-0.9 l0,1.8 Z M163.4,223.8 l-2.8,-0.9 l0,1.8 Z M21.6,239.5 l2.8,-0.9 l0,1.8 Z M173.9,239.5 l-2.8,-0.9 l0,1.8 Z M194.5,77.3 l-0.9,2.8 l1.8,0 Z M194.5,206.2 l-0.9,-2.8 l1.8,0 Z M409.9,397.5 l2.8,-0.9 l0,1.8 Z M538.3,397.5 l-2.8,-0.9 l0,1.8 Z M388.6,412.5 l2.8,-0.9 l0,1.8 Z M559.5,412.5 l-2.8,-0.9 l0,1.8 Z M185.6,278.0 l-0.9,2.8 l1.8,0 Z M185.6,390.5 l-0.9,-2.8 l1.8,0 Z M247.6,278.0 l-0.9,2.8 l1.8,0 Z M247.6,390.0 l-0.9,-2.8 l1.8,0 Z "/>
</svg>
</body></html>
